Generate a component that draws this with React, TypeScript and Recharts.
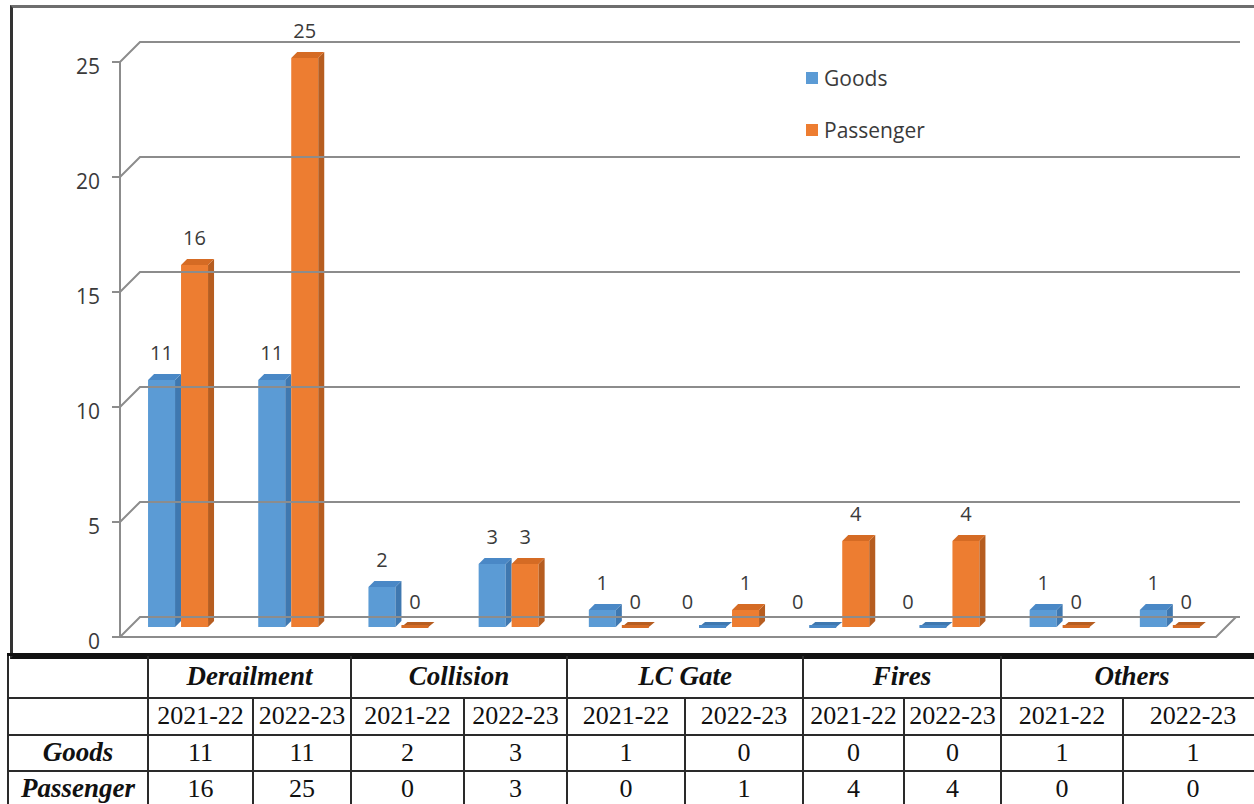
import React from 'react';
import { BarChart, Bar, XAxis, YAxis, ReferenceLine, ReferenceArea, Legend, LabelList } from 'recharts';

const categories = ['Derailment', 'Collision', 'LC Gate', 'Fires', 'Others'];
const years = ['2021-22', '2022-23'];
const goods = [11, 11, 2, 3, 1, 0, 0, 0, 1, 1];
const passenger = [16, 25, 0, 3, 0, 1, 4, 4, 0, 0];
const yTicks = [0, 5, 10, 15, 20, 25];
const seriesNames = ['Goods', 'Passenger'];

const data = categories.flatMap((c, ci) =>
  years.map((yr, yi) => {
    const i = ci * 2 + yi;
    return { name: `${c} ${yr}`, Goods: goods[i], Passenger: passenger[i] };
  })
);

const COLORS: Record<string, { front: string; side: string; top: string }> = {
  Goods: { front: '#5B9BD5', side: '#3F78B0', top: '#4A88C6' },
  Passenger: { front: '#ED7D31', side: '#B65D20', top: '#D56B24' },
};

const CHART_FONT = "'Open Sans', 'DejaVu Sans', sans-serif";
const TABLE_FONT = "'Liberation Serif', 'Times New Roman', serif";
const TEXT = '#3a3a3a';

const makeShape = (key: string) => (props: any) => {
  const { x, y, width, height } = props;
  if (x == null || y == null || isNaN(x) || isNaN(y)) return <g />;
  const c = COLORS[key];
  const w = width;
  const d = 6;
  const bottom = y + (height || 0);
  if (!height || height < 6) {
    const t = bottom - 5;
    return (
      <g>
        <polygon points={`${x},${bottom} ${x + w - d},${bottom} ${x + w},${t} ${x + d},${t}`} fill={c.side} />
        <rect x={x} y={bottom - 2} width={w - d} height={3} fill={c.top} />
      </g>
    );
  }
  const top = y;
  return (
    <g>
      <rect x={x} y={top + d} width={w - d} height={bottom - top - d} fill={c.front} />
      <polygon points={`${x + w - d},${top + d} ${x + w},${top} ${x + w},${bottom - d} ${x + w - d},${bottom}`} fill={c.side} />
      <polygon points={`${x},${top + d} ${x + d},${top} ${x + w},${top} ${x + w - d},${top + d}`} fill={c.top} />
    </g>
  );
};

const makeLabel = (key: string) => (props: any) => {
  const { x, y, width, value } = props;
  if (x == null || y == null) return null;
  const zero = value === 0;
  const dx = zero && key === 'Goods' ? -28 : -3;
  return (
    <text
      x={x + width / 2 + dx}
      y={zero ? y - 18 : y - 14}
      textAnchor="middle"
      fontSize={20}
      fontFamily={CHART_FONT}
      fill={TEXT}
    >
      {value}
    </text>
  );
};

const gridShape = (v: number) => (props: any) => {
  const { x1, y1, x2 } = props;
  const axX = x1 - 6;
  const back = y1 - 10;
  const front = y1 + 10;
  let d = `M${axX - 8},${front} L${axX},${front} L${axX + 20},${back} L${x2 + 12},${back}`;
  if (v === 0) d += ` M${axX},${front} L${x2 - 12},${front} L${x2 + 8},${back}`;
  return <path d={d} stroke="#8c8c8c" strokeWidth={2} fill="none" />;
};

const axisShape = (props: any) => {
  const { x, y, height } = props;
  return <path d={`M${x - 6},${y + 10} L${x - 6},${y + height + 10}`} stroke="#8c8c8c" strokeWidth={2} fill="none" />;
};

const renderTick = (props: any) => {
  const { x, y, payload } = props;
  return (
    <text x={x - 26} y={y + 22} textAnchor="end" fontSize={21} fontFamily={CHART_FONT} fill={TEXT}>
      {payload.value}
    </text>
  );
};

const renderLegend = (props: any) => {
  const payload = props.payload || [];
  return (
    <div style={{ fontFamily: CHART_FONT, fontSize: 21, color: TEXT }}>
      {payload.map((p: any) => (
        <div key={p.value} style={{ display: 'flex', alignItems: 'center', height: 52 }}>
          <span style={{ display: 'inline-block', width: 12, height: 12, background: p.color, marginRight: 6 }} />
          <span>{p.value}</span>
        </div>
      ))}
    </div>
  );
};

const colWidths = [140, 105, 98, 113, 103, 118, 118, 101, 97, 122, 140];
const rowHeights = [43, 37, 36, 36];

const cellBase: React.CSSProperties = {
  border: '2px solid #2a2a2a',
  padding: 0,
  textAlign: 'center',
  verticalAlign: 'middle',
  fontFamily: TABLE_FONT,
  color: '#111',
  whiteSpace: 'nowrap',
  overflow: 'hidden',
};
const headCell: React.CSSProperties = { ...cellBase, fontWeight: 'bold', fontStyle: 'italic', fontSize: 27 };
const yearCell: React.CSSProperties = { ...cellBase, fontSize: 26 };
const numCell: React.CSSProperties = { ...cellBase, fontSize: 26 };

export default function App() {
  const seriesValues = [goods, passenger];
  return (
    <div style={{ position: 'absolute', left: 0, top: 0, width: 1254, height: 804, overflow: 'hidden', background: '#fff' }}>
      <div
        style={{
          position: 'absolute',
          left: 10,
          top: 5,
          width: 1260,
          height: 648,
          borderLeft: '3px solid #333',
          borderTop: '3px solid #6e6e6e',
          borderBottom: '3px solid #111',
        }}
      />
      <div style={{ position: 'absolute', left: 0, top: 0 }}>
        <BarChart
          width={1254}
          height={660}
          data={data}
          margin={{ top: 52, right: 26, bottom: 33, left: 0 }}
          barCategoryGap="20%"
          barGap={0}
        >
          <XAxis dataKey="name" hide />
          <YAxis
            type="number"
            domain={[0, 25]}
            ticks={yTicks}
            interval={0}
            width={126}
            axisLine={false}
            tickLine={false}
            tickSize={0}
            tickMargin={0}
            tick={renderTick}
          />
          <ReferenceArea y1={0} y2={25} shape={axisShape} ifOverflow="visible" />
          {yTicks.map((v) => (
            <ReferenceLine key={v} y={v} shape={gridShape(v)} ifOverflow="visible" />
          ))}
          <Legend
            layout="horizontal"
            verticalAlign="middle"
            align="center"
            content={renderLegend}
            wrapperStyle={{ position: 'absolute', left: 806, top: 52, width: 200 }}
          />
          {seriesNames.map((s) => (
            <Bar key={s} dataKey={s} name={s} fill={COLORS[s].front} shape={makeShape(s)} isAnimationActive={false}>
              <LabelList dataKey={s} content={makeLabel(s)} />
            </Bar>
          ))}
        </BarChart>
      </div>
      <table
        style={{
          position: 'absolute',
          left: 7,
          top: 653,
          borderCollapse: 'collapse',
          tableLayout: 'fixed',
          width: colWidths.reduce((a, b) => a + b, 0),
        }}
      >
        <colgroup>
          {colWidths.map((w, i) => (
            <col key={i} style={{ width: w }} />
          ))}
        </colgroup>
        <tbody>
          <tr style={{ height: rowHeights[0] }}>
            <td style={{ ...cellBase, borderTop: '3px solid #111' }} />
            {categories.map((c) => (
              <td key={c} colSpan={2} style={{ ...headCell, borderTop: '3px solid #111' }}>
                {c}
              </td>
            ))}
          </tr>
          <tr style={{ height: rowHeights[1] }}>
            <td style={cellBase} />
            {categories.flatMap((c) =>
              years.map((yr) => (
                <td key={c + yr} style={yearCell}>
                  {yr}
                </td>
              ))
            )}
          </tr>
          {seriesNames.map((s, si) => (
            <tr key={s} style={{ height: rowHeights[2 + si] }}>
              <td style={headCell}>{s}</td>
              {seriesValues[si].map((v, i) => (
                <td key={i} style={numCell}>
                  {v}
                </td>
              ))}
            </tr>
          ))}
        </tbody>
      </table>
    </div>
  );
}
